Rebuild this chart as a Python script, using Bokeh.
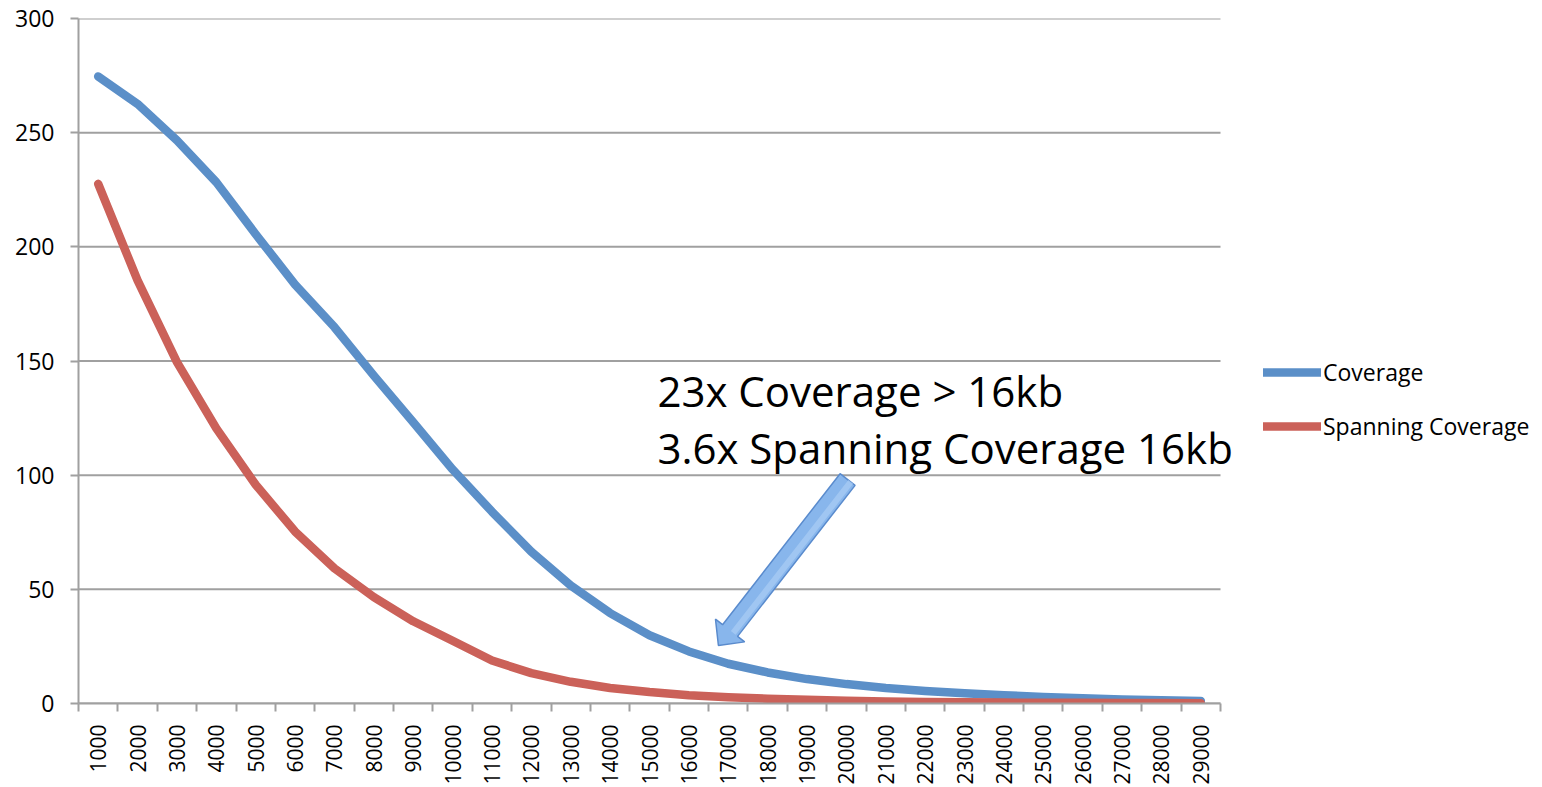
import math
from bokeh.plotting import figure
from bokeh.models import FixedTicker, Legend, LegendItem, Label, Range1d
from bokeh.embed import file_html
from bokeh.resources import INLINE

categories = [1000, 2000, 3000, 4000, 5000, 6000, 7000, 8000, 9000, 10000,
              11000, 12000, 13000, 14000, 15000, 16000, 17000, 18000, 19000, 20000,
              21000, 22000, 23000, 24000, 25000, 26000, 27000, 28000, 29000]
coverage = [274.6, 262.6, 246.6, 228.3, 205.5, 183.5, 164.8, 143.6, 123.2, 102.5,
            84.0, 66.5, 51.7, 39.6, 29.9, 22.8, 17.4, 13.6, 10.7, 8.5,
            6.8, 5.5, 4.5, 3.6, 2.9, 2.3, 1.8, 1.4, 1.1]
spanning = [227.6, 185.3, 149.5, 120.5, 95.8, 75.3, 59.2, 46.6, 36.0, 27.5,
            18.8, 13.3, 9.5, 6.8, 5.0, 3.6, 2.7, 2.1, 1.6, 1.2,
            0.9, 0.7, 0.5, 0.4, 0.3, 0.3, 0.2, 0.2, 0.1]
y_ticks = [0, 50, 100, 150, 200, 250, 300]
series_names = ["Coverage", "Spanning Coverage"]
note_lines = ["23x Coverage > 16kb", "3.6x Spanning Coverage 16kb"]

BLUE = "#5B8FC8"
RED = "#CB6159"
GRID = "#A0A0A0"
FONT = "Open Sans"

W, H = 1536, 787
BL, BT = 78, 18
PLOT_W, PLOT_H = 1142, 685          # the chart's plotting area
BR = 2
BB = H - BT - PLOT_H
FW = W - BL - BR                    # frame is wider so labels/legend are not clipped

n = len(categories)
sx = PLOT_W / n
sy = PLOT_H / 300.0
x_end = -0.5 + FW / sx

xs = list(range(n))
p = figure(width=W, height=H, output_backend="svg", toolbar_location=None,
           x_range=Range1d(-0.5, x_end), y_range=Range1d(0, 300),
           min_border_left=BL, min_border_right=BR, min_border_top=BT, min_border_bottom=BB)
p.outline_line_color = None
p.background_fill_color = "white"
p.border_fill_color = "white"

# x axis: labels at category centers, tick marks at category boundaries
xa = p.xaxis[0]
xa.bounds = (-0.5, n - 0.5)
xa.ticker = FixedTicker(ticks=xs, minor_ticks=[i - 0.5 for i in range(n + 1)])
xa.major_label_overrides = {i: str(c) for i, c in zip(xs, categories)}
xa.major_tick_out = 0
xa.major_tick_in = 0
xa.minor_tick_out = 8
xa.minor_tick_in = 0
xa.minor_tick_line_color = GRID
xa.minor_tick_line_width = 2
xa.axis_line_color = GRID
xa.axis_line_width = 2
xa.major_label_orientation = math.pi / 2
xa.major_label_standoff = 13
xa.major_label_text_font = FONT
xa.major_label_text_font_size = "21px"
xa.major_label_text_color = "black"

ya = p.yaxis[0]
ya.ticker = FixedTicker(ticks=y_ticks)
ya.major_tick_out = 8
ya.major_tick_in = 0
ya.minor_tick_out = 0
ya.minor_tick_in = 0
ya.major_tick_line_color = GRID
ya.major_tick_line_width = 2
ya.axis_line_color = GRID
ya.axis_line_width = 2
ya.major_label_standoff = 16
ya.major_label_text_font = FONT
ya.major_label_text_font_size = "23px"
ya.major_label_text_color = "black"

p.xgrid.visible = False
p.ygrid.visible = False
# horizontal gridlines limited to the category span
p.segment(x0=[-0.5] * len(y_ticks), x1=[n - 0.5] * len(y_ticks), y0=y_ticks, y1=y_ticks,
          line_color=GRID, line_width=2)

r1 = p.line(xs, coverage, line_width=8.5, line_color=BLUE, line_cap="round", line_join="round")
r2 = p.line(xs, spanning, line_width=8.5, line_color=RED, line_cap="round", line_join="round")

# block arrow (annotation), built in pixel geometry then mapped to data units
tip = (15.75, 25.4)
tail = (19.03, 98.1)
tpx = (tip[0] * sx, -tip[1] * sy)
spx = (tail[0] * sx, -tail[1] * sy)
dx, dy = tpx[0] - spx[0], tpx[1] - spx[1]
L = math.hypot(dx, dy)
ux, uy = dx / L, dy / L
nx, ny = -uy, ux
head_len, shaft_hw, head_hw = 19.0, 9.5, 18.5
bx, by = tpx[0] - ux * head_len, tpx[1] - uy * head_len
pts = [
    (spx[0] + nx * shaft_hw, spx[1] + ny * shaft_hw),
    (bx + nx * shaft_hw, by + ny * shaft_hw),
    (bx + nx * head_hw, by + ny * head_hw),
    tpx,
    (bx - nx * head_hw, by - ny * head_hw),
    (bx - nx * shaft_hw, by - ny * shaft_hw),
    (spx[0] - nx * shaft_hw, spx[1] - ny * shaft_hw),
]
p.patch([q[0] / sx for q in pts], [-q[1] / sy for q in pts],
        fill_color="#88B6EC", line_color="#5A8BCD", line_width=1.5)
hl = [
    (spx[0] - nx * 1, spx[1] - ny * 1),
    (bx - nx * 1, by - ny * 1),
    (bx - nx * 7, by - ny * 7),
    (spx[0] - nx * 7, spx[1] - ny * 7),
]
p.patch([q[0] / sx for q in hl], [-q[1] / sy for q in hl], fill_color="#A6CBF4",
        line_color=None, fill_alpha=0.8)

for txt, yb in zip(note_lines, [137.0, 112.0]):
    p.add_layout(Label(x=14.2, y=yb, text=txt, text_font=FONT, text_font_size="42px",
                       text_color="black", text_baseline="alphabetic", text_align="left"))

legend = Legend(items=[LegendItem(label=series_names[0], renderers=[r1]),
                       LegendItem(label=series_names[1], renderers=[r2])],
                location=(1185, 261), padding=0, margin=0,
                border_line_color=None, background_fill_alpha=0,
                glyph_width=58, glyph_height=20, label_height=20, spacing=22,
                label_standoff=2, label_text_font=FONT, label_text_font_size="23px",
                label_text_color="black")
p.add_layout(legend)

open("out.html", "w").write(file_html(p, INLINE))
